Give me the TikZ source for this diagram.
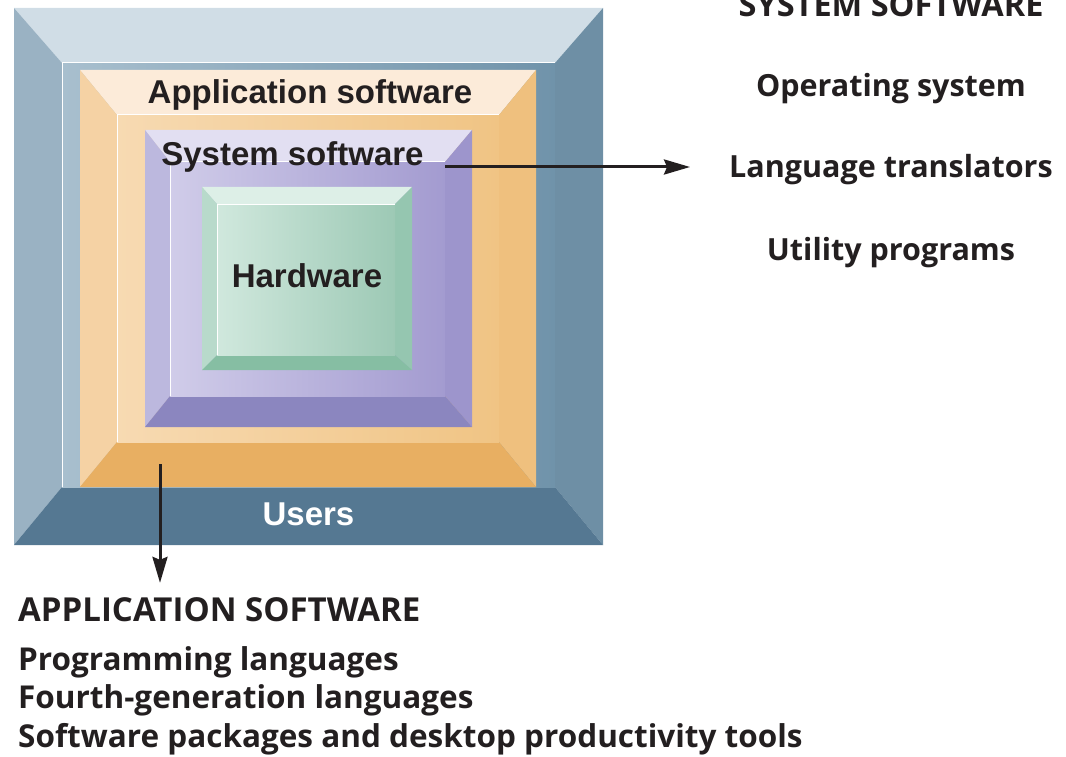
\documentclass[tikz,border=0pt]{standalone}
\usepackage{fontspec}
\setmainfont{Liberation Sans}
\newfontfamily\listfont{Open Sans}
\usetikzlibrary{arrows.meta}

% colours of the four layers
\definecolor{outtop}{HTML}{D0DDE6}
\definecolor{outlft}{HTML}{9AB2C3}
\definecolor{outrgt}{HTML}{6E8FA5}
\definecolor{outbot}{HTML}{557892}
\definecolor{outfl}{HTML}{A8BFCE}
\definecolor{outfr}{HTML}{7093AA}
\definecolor{apptop}{HTML}{FCEBD9}
\definecolor{applft}{HTML}{F5D2A4}
\definecolor{apprgt}{HTML}{EFC07E}
\definecolor{appbot}{HTML}{E8AF62}
\definecolor{appfl}{HTML}{F7DAB2}
\definecolor{appfr}{HTML}{F0C484}
\definecolor{systop}{HTML}{E2DFF2}
\definecolor{syslft}{HTML}{BCB8DE}
\definecolor{sysrgt}{HTML}{9D95CC}
\definecolor{sysbot}{HTML}{8B86BF}
\definecolor{sysfl}{HTML}{D0CCE9}
\definecolor{sysfr}{HTML}{A39BD0}
\definecolor{hwtop}{HTML}{DDEFE7}
\definecolor{hwlft}{HTML}{B8DACB}
\definecolor{hwrgt}{HTML}{95C6B0}
\definecolor{hwbot}{HTML}{86BEA3}
\definecolor{hwfl}{HTML}{D0E8DD}
\definecolor{hwfr}{HTML}{9DC9B5}
\definecolor{ink}{HTML}{231F20}

% bevelled box: colour prefix, outer x1 y1 x2 y2, inner x1 y1 x2 y2
\newcommand{\layer}[9]{%
  \fill[#1top] (#2,#3) -- (#4,#3) -- (#8,#7) -- (#6,#7) -- cycle;
  \fill[#1lft] (#2,#3) -- (#6,#7) -- (#6,#9) -- (#2,#5) -- cycle;
  \fill[#1rgt] (#4,#3) -- (#4,#5) -- (#8,#9) -- (#8,#7) -- cycle;
  \fill[#1bot] (#2,#5) -- (#6,#9) -- (#8,#9) -- (#4,#5) -- cycle;
  \shade[left color=#1fl,right color=#1fr] (#6,#7) rectangle (#8,#9);
  \draw[white,line width=1pt] (#6,#9) -- (#6,#7) -- (#8,#7);
}

\begin{document}
\begin{tikzpicture}
  [x=1pt,y=-1pt,every node/.style={inner sep=0pt,text=ink}]
  \tikzstyle{lbl} = [anchor=base,font=\fontsize{33}{36}\selectfont\bfseries]
  \tikzstyle{item} = [anchor=base,font=\listfont\fontsize{30.5}{36}\selectfont\bfseries]
  \tikzstyle{appitem} = [anchor=base west,font=\listfont\fontsize{31.5}{38}\selectfont\bfseries]
  \tikzstyle{arr} = [line width=3pt,color=ink,-{Stealth[length=26pt,width=15pt,inset=3pt]}]
  \useasboundingbox (0,0) rectangle (1066,757);
  \clip (0,0) rectangle (1066,757);
  % the nested layers
  \layer{out}{14}{8}{603}{545}{62}{63}{555}{487}
  \layer{app}{80}{70}{536}{487}{117}{115}{499}{442}
  \layer{sys}{145}{130}{472}{427}{170}{162}{445}{396}
  \layer{hw}{202}{187}{412}{370}{217}{204}{395}{355}
  \node[lbl] (app) at (310,103.5) {Application software};
  \node[lbl] (sys) at (292.5,166) {System software};
  \node[lbl] (hw) at (307,287.5) {Hardware};
  \node[lbl,text=white] (usr) at (308.5,525) {Users};
  % lists
  \node[item,font=\listfont\fontsize{32.5}{36}\selectfont\bfseries] (syshead) at (891,16.5) {SYSTEM SOFTWARE};
  \foreach \name/\ypos/\txt in {os/97/Operating system,lang/178/Language translators,
      util/260/Utility programs}
   \node[item] (\name) at (891,\ypos) {\txt};
  \node[appitem,font=\listfont\fontsize{33}{38}\selectfont\bfseries] (apphead) at (18,621) {APPLICATION SOFTWARE};
  \foreach \name/\ypos/\txt in {prog/670/Programming languages,fourth/708/Fourth-generation languages,
      pkgs/747/Software packages and desktop productivity tools}
   \node[appitem] (\name) at (18,\ypos) {\txt};
  % arrows
  \coordinate (sysend) at (445,167);
  \coordinate (append) at (160,464);
  \draw[arr,shorten >=39pt] (sysend) -- (sysend -| lang.west);
  \draw[arr,shorten >=14pt] (append) -- (append |- apphead.north);
\end{tikzpicture}
\end{document}
